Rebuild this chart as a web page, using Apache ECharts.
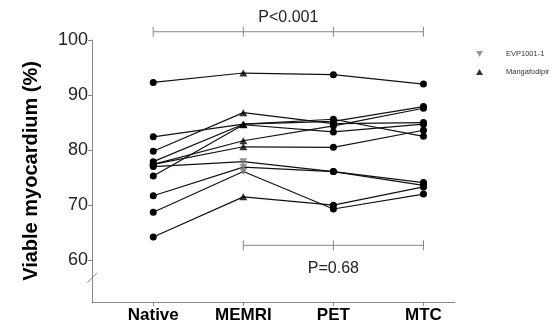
<!DOCTYPE html>
<html>
<head>
<meta charset="utf-8">
<script src="https://cdn.jsdelivr.net/npm/echarts@6/dist/echarts.min.js"></script>
<style>
  html, body { margin: 0; padding: 0; background: #fff; }
  #main { width: 557px; height: 329px; }
</style>
</head>
<body>
<div id="main"></div>
<script>
// timepoints and per-subject values (% viable myocardium), one entry per subject
const categories = ["Native", "MEMRI", "PET", "MTC"];
const nativeVals = [92.3, 82.4, 79.8, 77.9, 77.4, 77.4, 75.3, 77.0, 71.7, 68.7, 64.2];
const memriVals  = [94.0, 84.7, 86.8, 84.7, 81.7, 80.6, 84.6, 77.9, 76.9, 76.1, 71.5];
const petVals    = [93.7, 85.2, 84.8, 85.6, 84.4, 80.5, 83.3, 76.1, 76.1, 69.3, 70.0];
const mtcVals    = [92.0, 87.9, 85.0, 82.5, 87.6, 83.6, 84.7, 74.1, 73.6, 72.0, 73.3];
// contrast agent used for MEMRI in each subject
const memriAgent = ["Mangafodipir", "Mangafodipir", "Mangafodipir", "Mangafodipir", "Mangafodipir",
  "Mangafodipir", "Mangafodipir", "EVP1001-1", "EVP1001-1", "EVP1001-1", "Mangafodipir"];
const yTicks = [60, 70, 80, 90, 100];
const brackets = [
  { from: "Native", to: "MTC", label: "P<0.001" },
  { from: "MEMRI", to: "MTC", label: "P=0.68" }
];

const FONT = "Liberation Sans, Arial, sans-serif";
const invTri = "path://M0,0 L10,0 L5,9 Z";
const columns = [nativeVals, memriVals, petVals, mtcVals];

const chart = echarts.init(document.getElementById("main"));

var series = [];
nativeVals.forEach(function (_, i) {
  series.push({
    type: "line",
    data: categories.map(function (c, j) {
      return { value: [j + 1, columns[j][i]], symbol: j === 1 ? "none" : "circle" };
    }),
    symbolSize: 7,
    itemStyle: { color: "#000" },
    lineStyle: { color: "#111", width: 1.2 },
    silent: true,
    z: 2
  });
});

function agentPoints(agent) {
  var pts = [];
  memriVals.forEach(function (v, i) {
    if (memriAgent[i] === agent) pts.push([2, v]);
  });
  return pts;
}

series.push({
  name: "EVP1001-1",
  type: "scatter",
  symbol: invTri,
  symbolSize: [8, 7],
  itemStyle: { color: "#7a7a7a" },
  data: agentPoints("EVP1001-1"),
  z: 3
});
series.push({
  name: "Mangafodipir",
  type: "scatter",
  symbol: "triangle",
  symbolSize: [8, 7],
  itemStyle: { color: "#000" },
  data: agentPoints("Mangafodipir"),
  z: 3
});

var option = {
  animation: false,
  backgroundColor: "#fff",
  grid: { left: 92, right: 102, top: 40, bottom: 27 },
  legend: {
    data: [
      { name: "EVP1001-1", icon: invTri, itemStyle: { color: "#7a7a7a" } },
      { name: "Mangafodipir", icon: "triangle", itemStyle: { color: "#000" } }
    ],
    orient: "vertical",
    left: 471,
    top: 45,
    itemWidth: 7,
    itemHeight: 6,
    itemGap: 10,
    selectedMode: false,
    textStyle: { fontSize: 7.5, color: "#333", fontFamily: FONT, padding: [0, 0, 0, 18] }
  },
  xAxis: {
    type: "value",
    min: 0.32,
    max: 4.35,
    axisLine: { lineStyle: { color: "#888", width: 1 } },
    axisTick: { customValues: [1, 2, 3, 4], length: 4, lineStyle: { color: "#888" } },
    axisLabel: {
      customValues: [1, 2, 3, 4],
      formatter: function (v) { return categories[Math.round(v) - 1]; },
      fontSize: 17,
      fontWeight: "bold",
      color: "#000",
      fontFamily: FONT,
      margin: 5
    },
    splitLine: { show: false }
  },
  yAxis: {
    type: "value",
    min: 52.4,
    max: 100,
    name: "Viable myocardium (%)",
    nameLocation: "middle",
    nameGap: 51,
    nameTextStyle: { fontSize: 20, fontWeight: "bold", color: "#000", fontFamily: FONT },
    axisLine: { show: true, lineStyle: { color: "#888", width: 1 } },
    axisTick: { customValues: yTicks, length: 4, lineStyle: { color: "#888" } },
    axisLabel: { customValues: yTicks, fontSize: 18, color: "#222", fontFamily: FONT, margin: 4 },
    splitLine: { show: false }
  },
  series: series
};
chart.setOption(option);

// significance brackets and the axis break, placed through the chart's scales
function px(x, y) { return chart.convertToPixel({ gridIndex: 0 }, [x, y]); }
var graphics = [];
var levels = [101.5, 62.7];
brackets.forEach(function (b, k) {
  var i0 = categories.indexOf(b.from) + 1, i1 = categories.indexOf(b.to) + 1;
  var a = px(i0, levels[k]), c = px(i1, levels[k]);
  var stroke = { stroke: "#888", lineWidth: 1 };
  graphics.push({ type: "line", shape: { x1: a[0], y1: a[1], x2: c[0], y2: c[1] }, style: stroke, silent: true });
  for (var i = i0; i <= i1; i++) {
    var p = px(i, levels[k]);
    graphics.push({ type: "line", shape: { x1: p[0], y1: p[1] - 5, x2: p[0], y2: p[1] + 5 }, style: stroke, silent: true });
  }
  var mid = px((i0 + i1) / 2, levels[k]);
  graphics.push({
    type: "text", x: mid[0], y: k === 0 ? mid[1] - 14 : mid[1] + 23, silent: true,
    style: { text: b.label, font: "16px " + FONT, fill: "#222", align: "center", verticalAlign: "middle" }
  });
});
// axis break: blank a piece of the y axis line and mark both ends with slashes
var top = px(0.32, 60.6), bot = px(0.32, 56.8);
graphics.push({ type: "rect", shape: { x: top[0] - 3, y: top[1], width: 6, height: bot[1] - top[1] }, style: { fill: "#fff" }, silent: true, z: 100 });
[top, bot].forEach(function (p) {
  graphics.push({ type: "line", shape: { x1: p[0] - 5, y1: p[1] + 5, x2: p[0] + 5, y2: p[1] - 5 }, style: { stroke: "#888", lineWidth: 1 }, silent: true, z: 101 });
});
chart.setOption({ graphic: graphics });
</script>
</body>
</html>
